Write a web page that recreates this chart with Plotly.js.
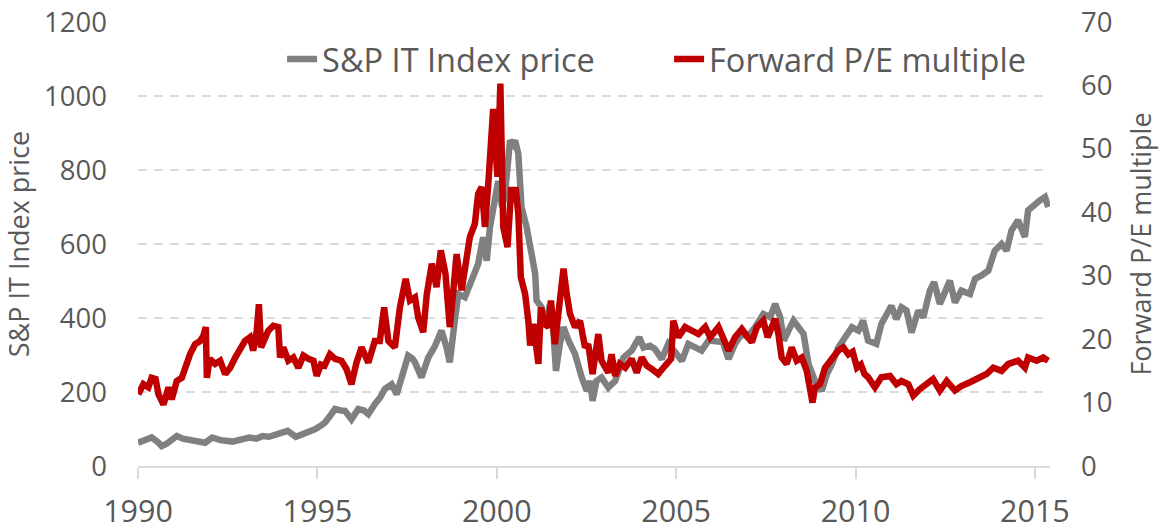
<!DOCTYPE html>
<html>
<head>
<meta charset="utf-8">
<script src="https://cdn.plot.ly/plotly-3.0.1.min.js"></script>
<style>html,body{margin:0;padding:0;background:#fff;}#chart{width:1159px;height:530px;}</style>
</head>
<body>
<div id="chart"></div>
<script>
// S&P IT Index price (left axis), decimal years
const priceYears = [1990.00,1990.15,1990.38,1990.55,1990.66,1990.80,1990.94,1991.08,1991.25,1991.50,1991.70,1991.87,1992.07,1992.30,1992.63,1992.85,1993.10,1993.30,1993.47,1993.65,1993.84,1994.00,1994.17,1994.40,1994.60,1994.75,1994.93,1995.08,1995.21,1995.35,1995.49,1995.65,1995.77,1995.95,1996.14,1996.30,1996.42,1996.60,1996.75,1996.88,1997.07,1997.21,1997.39,1997.53,1997.65,1997.72,1997.90,1998.09,1998.28,1998.46,1998.60,1998.69,1998.83,1998.93,1999.11,1999.30,1999.48,1999.62,1999.72,1999.81,1999.95,2000.04,2000.15,2000.23,2000.37,2000.45,2000.51,2000.60,2000.69,2000.83,2000.97,2001.07,2001.11,2001.25,2001.39,2001.48,2001.58,2001.65,2001.76,2001.86,2002.00,2002.18,2002.37,2002.51,2002.60,2002.67,2002.78,2002.92,2003.11,2003.30,2003.53,2003.76,2003.97,2004.09,2004.27,2004.41,2004.60,2004.78,2004.97,2005.16,2005.34,2005.53,2005.71,2005.90,2006.13,2006.30,2006.46,2006.64,2006.83,2007.00,2007.20,2007.43,2007.62,2007.76,2007.90,2008.00,2008.13,2008.27,2008.41,2008.55,2008.69,2008.80,2008.87,2009.06,2009.20,2009.34,2009.52,2009.71,2009.90,2010.08,2010.21,2010.35,2010.58,2010.72,2011.00,2011.14,2011.28,2011.42,2011.56,2011.75,2011.89,2012.07,2012.19,2012.35,2012.49,2012.63,2012.77,2012.95,2013.19,2013.33,2013.51,2013.70,2013.88,2014.07,2014.21,2014.35,2014.53,2014.72,2014.81,2015.00,2015.14,2015.28,2015.37];
const priceValues = [63,70,77,65,54,60,68,81,74,70,68,63,77,70,66,70,77,74,81,79,86,90,95,79,86,95,99,108,117,135,154,150,149,126,154,150,140,167,185,208,221,194,257,298,290,280,239,293,325,366,320,280,393,465,456,501,546,618,555,646,727,770,700,736,880,870,880,844,700,646,573,519,447,429,375,438,360,257,330,375,339,303,239,203,230,176,230,239,212,230,293,312,348,320,325,316,289,330,308,284,330,320,312,339,339,335,289,330,357,350,375,411,402,438,402,339,366,393,375,357,275,240,230,203,248,275,320,348,375,366,393,339,330,384,433,397,429,420,361,420,402,474,497,438,474,501,442,474,465,506,515,528,582,600,582,637,664,619,691,709,718,727,700];

// Forward P/E multiple (right axis), decimal years
const peYears = [1990.01,1990.15,1990.29,1990.38,1990.49,1990.57,1990.71,1990.85,1990.94,1991.08,1991.22,1991.31,1991.45,1991.59,1991.73,1991.82,1991.89,1991.92,1992.00,1992.15,1992.29,1992.43,1992.57,1992.71,1992.85,1992.98,1993.12,1993.21,1993.31,1993.37,1993.43,1993.54,1993.63,1993.77,1993.91,1993.96,1994.05,1994.19,1994.33,1994.47,1994.61,1994.75,1994.89,1994.98,1995.10,1995.20,1995.35,1995.49,1995.67,1995.81,1995.95,1996.09,1996.23,1996.42,1996.60,1996.74,1996.86,1996.98,1997.16,1997.30,1997.46,1997.58,1997.72,1997.81,1997.95,1998.05,1998.19,1998.32,1998.44,1998.57,1998.69,1998.79,1998.88,1999.02,1999.16,1999.25,1999.39,1999.48,1999.58,1999.67,1999.76,1999.90,1999.95,2000.02,2000.10,2000.18,2000.30,2000.40,2000.53,2000.60,2000.67,2000.79,2000.88,2000.93,2001.02,2001.16,2001.23,2001.34,2001.44,2001.51,2001.62,2001.73,2001.86,2001.95,2002.04,2002.18,2002.32,2002.46,2002.55,2002.67,2002.83,2002.92,2003.11,2003.20,2003.30,2003.43,2003.58,2003.76,2003.90,2004.04,2004.18,2004.32,2004.50,2004.69,2004.86,2004.92,2005.06,2005.25,2005.43,2005.62,2005.81,2005.95,2006.18,2006.32,2006.46,2006.64,2006.83,2006.97,2007.11,2007.25,2007.43,2007.55,2007.67,2007.76,2007.85,2007.94,2008.08,2008.22,2008.36,2008.50,2008.64,2008.73,2008.80,2008.87,2009.01,2009.15,2009.34,2009.52,2009.66,2009.80,2009.92,2010.04,2010.15,2010.25,2010.35,2010.54,2010.72,2010.96,2011.14,2011.28,2011.47,2011.61,2011.79,2011.98,2012.16,2012.35,2012.54,2012.77,2012.95,2013.19,2013.42,2013.65,2013.84,2014.07,2014.26,2014.53,2014.72,2014.81,2015.05,2015.23,2015.37];
const peValues = [11.3,12.9,12.4,13.9,13.7,11.3,9.7,12.4,10.5,13.4,13.9,15.5,17.6,19.2,19.7,20.5,21.9,13.9,16.9,16.1,16.6,14.5,15.5,17.1,18.7,19.7,20.3,18.2,21.3,25.5,18.7,20.3,21.3,22.1,21.9,17.1,18.7,16.6,17.1,15.5,17.4,16.9,16.6,14.2,16.0,15.8,17.6,16.9,16.6,15.3,12.9,16.3,18.7,16.3,19.7,19.7,25.0,19.7,18.7,25.0,29.5,26.1,26.6,23.4,21.1,27.1,31.9,28.2,34.0,30.3,21.9,27.7,33.4,27.7,32.4,36.1,38.2,42.9,44.0,37.7,44.2,56.3,51.0,45.6,60.3,37.7,34.5,43.5,43.5,39.8,29.8,27.1,22.9,19.0,22.4,16.1,25.0,22.4,21.9,26.1,19.2,25.3,31.1,27.1,24.0,21.9,22.9,18.7,19.2,14.5,20.8,16.6,14.7,17.6,14.2,16.1,15.5,16.9,14.7,17.1,15.8,15.3,14.5,15.8,16.9,22.9,20.3,21.9,21.3,20.8,21.9,20.3,21.9,20.3,18.2,20.3,21.6,20.5,19.5,21.9,22.9,20.3,22.4,23.2,20.8,17.1,16.1,18.7,16.6,17.1,15.0,12.4,10.0,12.4,12.9,15.5,17.1,18.2,18.7,17.6,18.0,15.5,16.0,14.5,14.0,12.4,14.0,14.2,12.9,13.4,12.9,11.1,12.1,12.9,13.7,11.9,13.4,11.9,12.6,13.2,14.0,14.5,15.5,15.0,16.1,16.6,15.5,17.1,16.6,17.1,16.6];

const xTicks = [1990,1995,2000,2005,2010,2015];
const xTickText = ['1990','1995','2000','2005','2010','2015'];
const priceTicks = [0,200,400,600,800,1000,1200];
const peTicks = [0,10,20,30,40,50,60,70];

const FONT = 'Open Sans, Noto Sans, sans-serif';
const TXT = '#595959';

const traces = [
  {x: priceYears, y: priceValues, name: 'S&P IT Index price', type: 'scatter', mode: 'lines',
   line: {color: '#808080', width: 6.5}, yaxis: 'y', hoverinfo: 'skip'},
  {x: peYears, y: peValues, name: 'Forward P/E multiple', type: 'scatter', mode: 'lines',
   line: {color: '#C00000', width: 6.5}, yaxis: 'y2', hoverinfo: 'skip'}
];

const layout = {
  width: 1159, height: 530,
  margin: {l: 138, r: 109, t: 22, b: 64},
  paper_bgcolor: '#ffffff', plot_bgcolor: '#ffffff',
  font: {family: FONT, color: TXT},
  showlegend: true,
  legend: {orientation: 'h', x: 0.158, y: 0.916, xanchor: 'left', yanchor: 'middle',
           font: {size: 32.5, color: TXT, family: FONT}, bgcolor: 'rgba(0,0,0,0)',
           entrywidthmode: 'pixels', entrywidth: 342},
  xaxis: {range: [1990, 2015.42], tickmode: 'array', tickvals: xTicks, ticktext: xTickText,
          tickfont: {size: 30.5, color: TXT}, showgrid: false, zeroline: false,
          showline: true, linecolor: '#d9d9d9', linewidth: 2,
          ticks: 'outside', ticklen: 11, tickwidth: 2, tickcolor: '#d9d9d9', ticklabelstandoff: 6},
  yaxis: {range: [0, 1200], tickmode: 'array', tickvals: priceTicks,
          tickfont: {size: 27.5, color: TXT}, showgrid: true, gridcolor: '#d9d9d9', gridwidth: 2,
          griddash: '9px,7px', zeroline: false, showline: false, ticks: '', ticklabelstandoff: 30,
          title: {text: 'S&P IT Index price', font: {size: 27, color: TXT}, standoff: 8}},
  yaxis2: {range: [0, 70], tickmode: 'array', tickvals: peTicks, overlaying: 'y', side: 'right',
           tickfont: {size: 27.5, color: TXT}, showgrid: false, zeroline: false, showline: false,
           ticks: '', ticklabelstandoff: 30,
           title: {text: 'Forward P/E multiple', font: {size: 27, color: TXT}, standoff: 24}}
};

Plotly.newPlot('chart', traces, layout, {displayModeBar: false, staticPlot: true});
</script>
</body>
</html>
